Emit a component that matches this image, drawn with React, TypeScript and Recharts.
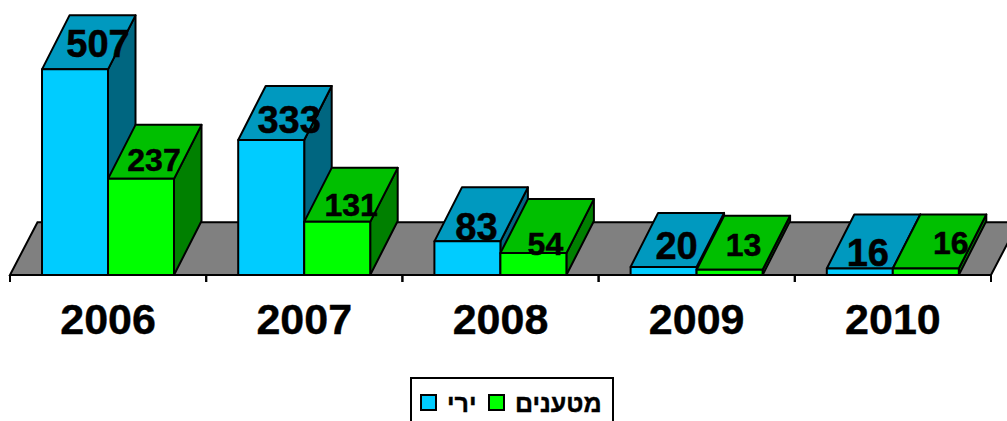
import React from 'react';
import { BarChart, Bar, XAxis, YAxis, LabelList, Legend, ReferenceArea } from 'recharts';

const years = ['2006', '2007', '2008', '2009', '2010'];
const shooting = [507, 333, 83, 20, 16];
const charges = [237, 131, 54, 13, 16];

const data = years.map((year, i) => ({ year, shooting: shooting[i], charges: charges[i] }));

const FONT = '"Liberation Sans", Arial, sans-serif';
const BAND = 196.2;
const DEPTH_X = 27.5;
const DEPTH_Y = 54;

// label nudges relative to the centre top of the front face, the original places them unevenly
const shootingShift = [[23, -25], [18, -20], [9, -14], [13, -21], [8, -16]];
const chargesShift = [[13, -19], [14, -17], [12, -9], [14, -25], [25, -26]];

const colors = {
  shooting: { front: '#00ccff', top: '#0099bf', side: '#006680' },
  charges: { front: '#00ff00', top: '#00bf00', side: '#008000' },
};

const box = (tone: { front: string; top: string; side: string }) => (props: any) => {
  const { x, y, width, height } = props;
  const common = { stroke: '#000', strokeWidth: 2, strokeLinejoin: 'round' as const };
  return (
    <g>
      <polygon
        {...common}
        fill={tone.side}
        points={`${x + width},${y} ${x + width + DEPTH_X},${y - DEPTH_Y} ${x + width + DEPTH_X},${y + height - DEPTH_Y} ${x + width},${y + height}`}
      />
      <polygon
        {...common}
        fill={tone.top}
        points={`${x},${y} ${x + DEPTH_X},${y - DEPTH_Y} ${x + width + DEPTH_X},${y - DEPTH_Y} ${x + width},${y}`}
      />
      <rect {...common} x={x} y={y} width={width} height={height} fill={tone.front} />
    </g>
  );
};

const Floor = (props: any) => {
  const { x, y, width, height } = props;
  return (
    <polygon
      fill="#808080"
      stroke="#000"
      strokeWidth={2}
      points={`${x},${y + height} ${x + DEPTH_X},${y} ${x + width + DEPTH_X},${y} ${x + width},${y + height}`}
    />
  );
};

const YearTick = (props: any) => {
  const { x, y, payload } = props;
  return (
    <g>
      <line x1={x - BAND / 2} x2={x - BAND / 2} y1={y} y2={y + 7} stroke="#000" strokeWidth={2} />
      <line x1={x + BAND / 2} x2={x + BAND / 2} y1={y} y2={y + 7} stroke="#000" strokeWidth={2} />
      <text
        x={x}
        y={y + 59}
        textAnchor="middle"
        fontFamily={FONT}
        fontWeight="bold"
        fontSize={43}
        fill="#000"
        stroke="#000"
        strokeWidth={0.4}
      >
        {payload.value}
      </text>
    </g>
  );
};

const valueLabel = (shift: number[][], fontSize: number) => (props: any) => {
  const { x, y, width, value, index } = props;
  const [dx, dy] = shift[index];
  return (
    <text
      x={x + width / 2 + dx}
      y={y + dy}
      textAnchor="middle"
      dominantBaseline="central"
      fontFamily={FONT}
      fontWeight="bold"
      fontSize={fontSize}
      fill="#000"
      stroke="#000"
      strokeWidth={0.5}
    >
      {value}
    </text>
  );
};

const swatch = (color: string): React.CSSProperties => ({
  width: 17,
  height: 17,
  marginTop: 5,
  background: color,
  border: '2px solid #000',
  boxSizing: 'border-box',
  flex: 'none',
});

const LegendBox = () => (
  <div
    style={{
      boxSizing: 'border-box',
      height: 50,
      border: '2px solid #000',
      display: 'flex',
      alignItems: 'flex-start',
      paddingLeft: 8,
      paddingTop: 10,
      fontFamily: FONT,
      fontWeight: 'bold',
      fontSize: 25,
      lineHeight: '28px',
      color: '#000',
      WebkitTextStroke: '0.4px #000',
    }}
  >
    <span style={swatch(colors.shooting.front)} />
    <span style={{ marginLeft: 10, width: 41, direction: 'rtl', textAlign: 'left' }}>ירי</span>
    <span style={swatch(colors.charges.front)} />
    <span style={{ marginLeft: 10, direction: 'rtl' }}>מטענים</span>
  </div>
);

export default function App() {
  return (
    <div style={{ position: 'absolute', left: 0, top: 0, width: 1007, height: 421, overflow: 'hidden', background: '#fff' }}>
      <BarChart
        width={1007}
        height={421}
        data={data}
        margin={{ top: 0, right: 16, bottom: 36, left: 10 }}
        barCategoryGap={32}
        barGap={0}
      >
        <YAxis hide domain={[0, 678]} />
        <ReferenceArea y1={0} y2={130} shape={Floor} />
        <XAxis
          dataKey="year"
          height={60}
          axisLine={{ stroke: '#000', strokeWidth: 2 }}
          tickLine={false}
          tickSize={0}
          tickMargin={0}
          tick={YearTick}
          interval={0}
        />
        <Legend
          content={LegendBox}
          wrapperStyle={{ position: 'absolute', left: 410, top: 377, width: 204, height: 50, bottom: 'auto' }}
        />
        <Bar dataKey="shooting" name="ירי" isAnimationActive={false} shape={box(colors.shooting)}>
          <LabelList dataKey="shooting" content={valueLabel(shootingShift, 38)} />
        </Bar>
        <Bar dataKey="charges" name="מטענים" isAnimationActive={false} shape={box(colors.charges)}>
          <LabelList dataKey="charges" content={valueLabel(chargesShift, 32)} />
        </Bar>
      </BarChart>
    </div>
  );
}
